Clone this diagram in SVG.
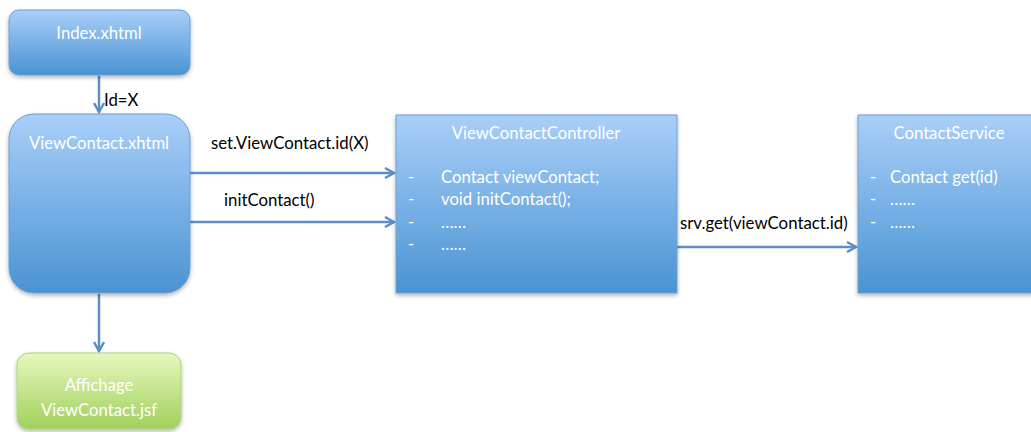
<svg xmlns="http://www.w3.org/2000/svg" width="1031" height="432" viewBox="0 0 1031 432">
<defs>
<linearGradient id="gb" x1="0" y1="0" x2="0" y2="1">
<stop offset="0" stop-color="#a9cff9"/>
<stop offset="1" stop-color="#4a93d3"/>
</linearGradient>
<linearGradient id="gg" x1="0" y1="0" x2="0" y2="1">
<stop offset="0" stop-color="#e6f7bd"/>
<stop offset="1" stop-color="#a1d05c"/>
</linearGradient>
<filter id="sh" x="-10%" y="-10%" width="120%" height="125%">
<feDropShadow dx="0" dy="2" stdDeviation="2" flood-color="#000" flood-opacity="0.3"/>
</filter>
<marker id="ar" viewBox="0 0 12 12" refX="10" refY="6" markerWidth="12" markerHeight="12" markerUnits="userSpaceOnUse" orient="auto">
<path d="M1,1 L10,6 L1,11" fill="none" stroke="#5b8fc9" stroke-width="2.5"/>
</marker>
</defs>
<style>
.bx{fill:url(#gb);stroke:#6a9fd3;stroke-width:1;filter:url(#sh)}
.gx{fill:url(#gg);stroke:#afd37a;stroke-width:1;filter:url(#sh)}
.t{font-family:Lato,"Open Sans",sans-serif;font-size:16.7px;fill:#ffffff}
.c{text-anchor:middle}
.l{font-family:Lato,"Open Sans",sans-serif;font-size:16.8px;fill:#000000}
.cn{fill:none;stroke:#5b8fc9;stroke-width:2.5;marker-end:url(#ar)}
</style>
<g id="connectors">
<line class="cn" x1="99" y1="76" x2="99" y2="112"/>
<line class="cn" x1="190" y1="173" x2="394" y2="173"/>
<line class="cn" x1="190" y1="222" x2="394" y2="222"/>
<line class="cn" x1="99" y1="294" x2="99" y2="351"/>
<line class="cn" x1="677" y1="247" x2="856" y2="247"/>
<text class="l" x="104" y="106">Id=X</text>
<text class="l" x="211" y="149">set.ViewContact.id(X)</text>
<text class="l" x="224" y="206">initContact()</text>
<text class="l" x="680" y="229">srv.get(viewContact.id)</text>
</g>
<g id="index">
<rect class="bx" x="9" y="10" width="181" height="65" rx="10"/>
<text class="t c" x="99" y="39">Index.xhtml</text>
</g>
<g id="viewcontact">
<rect class="bx" x="9" y="114" width="181" height="179" rx="25"/>
<text class="t c" x="99" y="149">ViewContact.xhtml</text>
</g>
<g id="affichage">
<rect class="gx" x="17" y="353" width="164" height="76" rx="12"/>
<text class="t c" x="99" y="391">Affichage</text>
<text class="t c" x="99" y="416">ViewContact.jsf</text>
</g>
<g id="controller">
<rect class="bx" x="396" y="115" width="281" height="178"/>
<text class="t c" x="536" y="139">ViewContactController</text>
<text class="t" x="408" y="183">-</text><text class="t" x="441" y="183">Contact viewContact;</text>
<text class="t" x="408" y="205">-</text><text class="t" x="441" y="205">void initContact();</text>
<text class="t" x="408" y="228">-</text><text class="t" x="441" y="228">……</text>
<text class="t" x="408" y="250">-</text><text class="t" x="441" y="250">……</text>
</g>
<g id="service">
<rect class="bx" x="858" y="115" width="180" height="178"/>
<text class="t c" x="949" y="139">ContactService</text>
<text class="t" x="870" y="183">-</text><text class="t" x="890" y="183">Contact get(id)</text>
<text class="t" x="870" y="205">-</text><text class="t" x="890" y="205">……</text>
<text class="t" x="870" y="228">-</text><text class="t" x="890" y="228">……</text>
</g>
</svg>
